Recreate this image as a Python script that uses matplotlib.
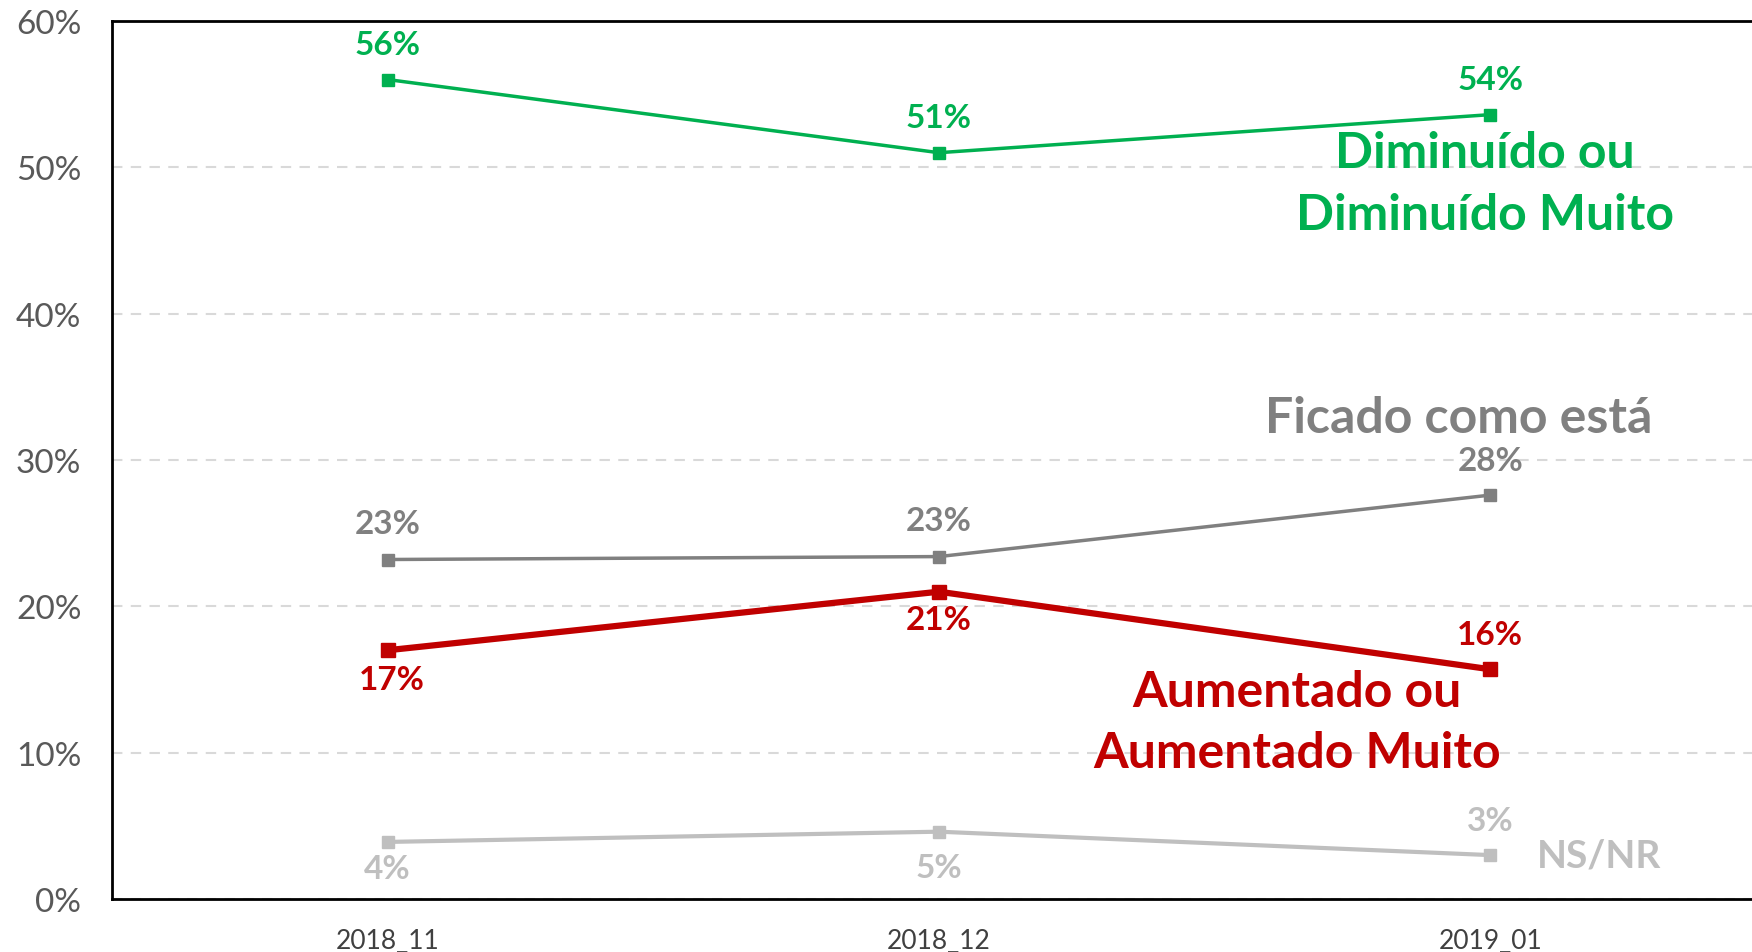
import matplotlib
matplotlib.use('Agg')
import matplotlib.pyplot as plt
from matplotlib.ticker import PercentFormatter

periods = ["2018_11", "2018_12", "2019_01"]
diminuido = [56.0, 51.0, 53.6]
ficado = [23.2, 23.4, 27.6]
aumentado = [17.0, 21.0, 15.7]
nsnr = [3.9, 4.6, 3.0]

dim_labels = ["56%", "51%", "54%"]
fic_labels = ["23%", "23%", "28%"]
aum_labels = ["17%", "21%", "16%"]
ns_labels = ["4%", "5%", "3%"]

GREEN = "#00B050"
RED = "#C00000"
GRAY = "#808080"
LIGHT = "#BFBFBF"

plt.rcParams['font.family'] = ['Lato', 'DejaVu Sans']

fig = plt.figure(figsize=(17.52, 9.53), dpi=100)
ax = fig.add_axes([112 / 1752, 53 / 953, 1 - 112 / 1752, 878 / 953])

x = list(range(len(periods)))

ax.plot(x, nsnr, color=LIGHT, lw=3, marker='s', ms=9, zorder=3)
ax.plot(x, ficado, color=GRAY, lw=2.5, marker='s', ms=8, zorder=3)
ax.plot(x, aumentado, color=RED, lw=4.5, marker='s', ms=10, zorder=4)
ax.plot(x, diminuido, color=GREEN, lw=2.5, marker='s', ms=8, zorder=4)


def label(xs, ys, texts, offsets, color, dx=None):
    for i, (xi, yi, t, off) in enumerate(zip(xs, ys, texts, offsets)):
        ddx = dx[i] if dx else 0
        ax.annotate(t, (xi, yi), xytext=(ddx, off), textcoords='offset points',
                    ha='center', va='center', color=color, fontsize=24,
                    fontweight='bold')


label(x, diminuido, dim_labels, [25, 25, 25], GREEN)
label(x, ficado, fic_labels, [26, 26, 25], GRAY)
label(x, aumentado, aum_labels, [-21, -20, 25], RED, dx=[3, 0, 0])
label(x, nsnr, ns_labels, [-19, -26, 25], LIGHT)

ax.text(1.99, 48.9, "Diminuído ou\nDiminuído Muito", color=GREEN, fontsize=36,
        fontweight='bold', ha='center', va='center', linespacing=1.45)
ax.text(1.943, 32.9, "Ficado como está", color=GRAY, fontsize=36,
        fontweight='bold', ha='center', va='center')
ax.text(1.649, 12.1, "Aumentado ou\nAumentado Muito", color=RED, fontsize=36,
        fontweight='bold', ha='center', va='center', linespacing=1.45)
ax.text(2.197, 3.0, "NS/NR", color=LIGHT, fontsize=28,
        fontweight='bold', ha='center', va='center')

ax.set_xlim(-0.5, 2.475)
ax.set_ylim(0, 60)
ax.set_xticks(x)
ax.set_xticklabels(periods)
ax.set_yticks(range(0, 61, 10))
ax.yaxis.set_major_formatter(PercentFormatter(decimals=0))
ax.tick_params(axis='y', length=0, pad=22, labelsize=24, labelcolor='#595959')
ax.tick_params(axis='x', length=0, pad=21, labelsize=19, labelcolor='#404040')

ax.grid(axis='y', color='#D9D9D9', ls=(0, (5, 4)), lw=1.5, zorder=0)
for s in ['left', 'bottom', 'top']:
    ax.spines[s].set_linewidth(2)
    ax.spines[s].set_color('black')
ax.spines['right'].set_visible(False)

fig.savefig("out.png", dpi=100)
